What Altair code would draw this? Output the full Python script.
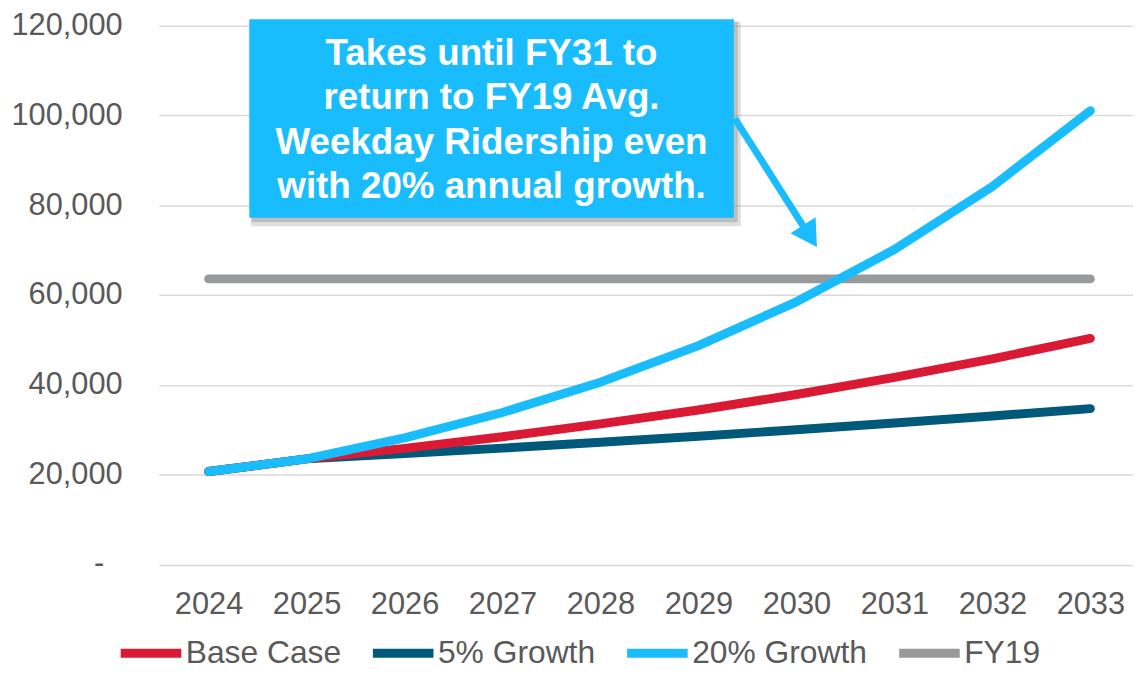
import altair as alt
import pandas as pd

years = ["2024", "2025", "2026", "2027", "2028", "2029", "2030", "2031", "2032", "2033"]
base_case = [20700, 23500, 25850, 28450, 31300, 34400, 37850, 41650, 45800, 50350]
growth_5 = [20700, 23500, 24700, 25900, 27200, 28550, 30000, 31500, 33050, 34700]
growth_20 = [20700, 23500, 28200, 33850, 40600, 48750, 58500, 70150, 84200, 101050]
fy19 = [63600] * 10

series_names = ["Base Case", "5% Growth", "20% Growth", "FY19"]
series_colors = ["#DA1A35", "#00587A", "#19BDFE", "#97999B"]
series_values = [base_case, growth_5, growth_20, fy19]

y_ticks = [0, 20000, 40000, 60000, 80000, 100000, 120000]
zero_label = ["-"]

callout_lines = ["Takes until FY31 to", "return to FY19 Avg.", "Weekday Ridership even", "with 20% annual growth."]

rows = []
for name, vals in zip(series_names, series_values):
    for yr, v in zip(years, vals):
        rows.append({"year": yr, "value": v, "series": name})
df = pd.DataFrame(rows)

FONT = "Liberation Sans"
GREY_TXT = "#595959"
TOP = 15.5

color = alt.Color(
    "series:N",
    scale=alt.Scale(domain=series_names, range=series_colors),
    legend=alt.Legend(
        title=None, orient="none", legendX=-43, legendY=597, direction="horizontal",
        symbolType="stroke", symbolSize=3721, symbolStrokeWidth=9, labelOffset=0,
        columnPadding=13, labelFontSize=32, labelFont=FONT, labelColor=GREY_TXT,
        padding=0, labelLimit=400,
    ),
)

x = alt.X(
    "year:O",
    sort=years,
    scale=alt.Scale(type="point", padding=0.471, align=0.538),
    axis=alt.Axis(title=None, labelAngle=0, domain=False, ticks=False, tickSize=0, grid=False,
                  labelFontSize=31, labelFont=FONT, labelColor=GREY_TXT, labelPadding=25),
)
y = alt.Y(
    "value:Q",
    scale=alt.Scale(domain=[0, 120000], nice=False),
    axis=alt.Axis(title=None, values=y_ticks,
                  domain=False, ticks=False, tickSize=0, grid=True, gridColor="#D9D9D9", gridWidth=1.5,
                  labelFontSize=31, labelFont=FONT, labelColor=GREY_TXT, labelPadding=37,
                  labelExpr="datum.value == 0 ? '' : format(datum.value, ',')"),
)

base = alt.Chart(df)

def line_for(name):
    return base.transform_filter(alt.datum.series == name).mark_line(
        strokeWidth=9, strokeCap="round", strokeJoin="round"
    ).encode(x=x, y=y, color=color)

one = alt.Chart(pd.DataFrame({"a": [0]}))

zero_txt = alt.Chart(pd.DataFrame({"v": [0], "t": zero_label})).mark_text(
    font=FONT, fontSize=31, color=GREY_TXT, align="right", baseline="middle"
).encode(x=alt.value(-55), y=alt.Y("v:Q"), text="t:N")

shadow1 = one.mark_rect(color="#808080", opacity=0.25).encode(
    x=alt.value(93), x2=alt.value(586), y=alt.value(-4), y2=alt.value(202))
shadow2 = one.mark_rect(color="#808080", opacity=0.35).encode(
    x=alt.value(93), x2=alt.value(583), y=alt.value(-4), y2=alt.value(198))
box = one.mark_rect(color="#19BDFE").encode(
    x=alt.value(91), x2=alt.value(579), y=alt.value(-6.5), y2=alt.value(193.5))
txt = one.mark_text(
    text=callout_lines, font=FONT, fontSize=37, fontWeight="bold", color="white",
    align="center", baseline="alphabetic", lineHeight=44.7,
).encode(x=alt.value(335), y=alt.value(39.5))

shaft = one.mark_rule(color="#19BDFE", strokeWidth=7).encode(
    x=alt.value(580), y=alt.value(93.5), x2=alt.value(651), y2=alt.value(205))
head = one.mark_point(shape="triangle-down", filled=True, color="#19BDFE", opacity=1,
                      size=900, angle=327.4).encode(x=alt.value(655.7), y=alt.value(211.9))

chart = alt.layer(
    line_for("FY19"), line_for("5% Growth"), line_for("Base Case"), line_for("20% Growth"),
    zero_txt, shadow1, shadow2, box, txt, shaft, head,
).properties(
    width=981, height=566 - 8 - TOP,
    background="white",
    autosize=alt.AutoSizeParams(type="none"),
    padding={"left": 152, "top": TOP, "right": 0, "bottom": 663 - TOP - (566 - 8 - TOP)},
).configure_view(stroke=None)

chart.save("out.html", embed_options={"renderer": "svg", "actions": False})
